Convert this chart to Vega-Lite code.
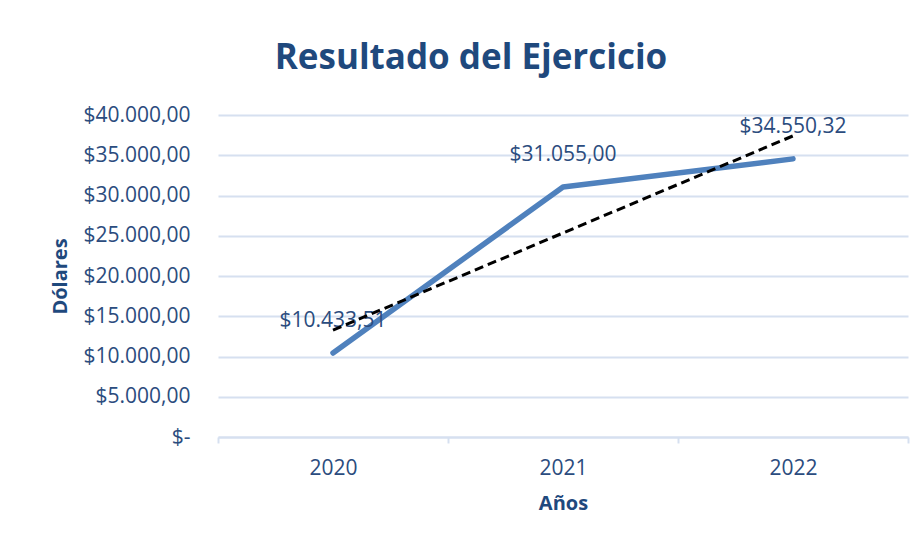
{
  "$schema": "https://vega.github.io/schema/vega-lite/v6.json",
  "width": 690,
  "height": 322,
  "autosize": {"type": "none"},
  "padding": {"left": 218, "top": 115, "right": 15, "bottom": 107},
  "background": "white",
  "config": {
    "locale": {"number": {"decimal": ",", "thousands": ".", "grouping": [3], "currency": ["$", ""]}},
    "view": {"stroke": null},
    "font": "Open Sans"
  },
  "title": {
    "text": "Resultado del Ejercicio",
    "anchor": "middle",
    "dx": -92,
    "offset": 28,
    "fontSize": 35,
    "fontWeight": "bold",
    "color": "#1F497D",
    "font": "Open Sans"
  },
  "data": {
    "values": [
      {"year": "2020", "value": 10433.51, "trend": 13287.04},
      {"year": "2021", "value": 31055.00, "trend": 25345.94},
      {"year": "2022", "value": 34550.32, "trend": 37404.85}
    ]
  },
  "encoding": {
    "x": {
      "field": "year",
      "type": "ordinal",
      "scale": {"type": "band", "paddingInner": 0, "paddingOuter": 0},
      "axis": {
        "title": "Años",
        "titleFontSize": 20,
        "titleFontWeight": "bold",
        "titleColor": "#1F497D",
        "titlePadding": 15,
        "labelFontSize": 21,
        "labelColor": "#2B4C7E",
        "labelAngle": 0,
        "labelPadding": 14,
        "domainColor": "#D6E0F0",
        "domainWidth": 2,
        "tickColor": "#D6E0F0",
        "tickWidth": 2,
        "tickSize": 6,
        "tickBand": "extent",
        "grid": false
      }
    }
  },
  "layer": [
    {
      "mark": {"type": "line", "color": "#4F81BD", "strokeWidth": 5.5, "strokeCap": "round", "strokeJoin": "round"},
      "encoding": {
        "y": {
          "field": "value",
          "type": "quantitative",
          "scale": {"domain": [0, 40000]},
          "axis": {
            "title": "Dólares",
            "titleFontSize": 20,
            "titleFontWeight": "bold",
            "titleColor": "#1F497D",
            "titleX": -148,
            "titleY": 161,
            "values": [0, 5000, 10000, 15000, 20000, 25000, 30000, 35000, 40000],
            "format": "$,.2f",
            "labelExpr": "datum.value === 0 ? '$-' : datum.label",
            "labelFontSize": 21,
            "labelColor": "#2B4C7E",
            "labelPadding": 28,
            "domain": false,
            "ticks": false,
            "grid": true,
            "gridColor": "#D6E0F0",
            "gridWidth": 2
          }
        }
      }
    },
    {
      "mark": {"type": "text", "dy": -32, "fontSize": 21, "color": "#2B4C7E"},
      "encoding": {
        "y": {"field": "value", "type": "quantitative"},
        "text": {"field": "value", "type": "quantitative", "format": "$,.2f"}
      }
    },
    {
      "mark": {"type": "line", "color": "black", "strokeWidth": 3, "strokeDash": [9, 5]},
      "encoding": {
        "y": {"field": "trend", "type": "quantitative"}
      }
    }
  ]
}
